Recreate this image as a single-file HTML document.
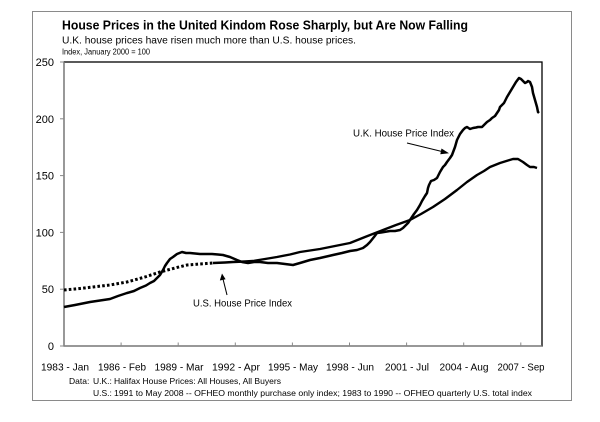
<!DOCTYPE html>
<html>
<head>
<meta charset="utf-8">
<style>
html,body{margin:0;padding:0;background:#fff;}
svg{display:block;}
text{font-family:"Liberation Sans",sans-serif;fill:#000;}
</style>
</head>
<body>
<svg width="600" height="422" viewBox="0 0 600 422" xmlns="http://www.w3.org/2000/svg">
  <rect x="0" y="0" width="600" height="422" fill="#fff"/>
  <!-- outer border -->
  <rect x="32.5" y="11.5" width="539" height="389" fill="none" stroke="#8a8a8a" stroke-width="1"/>

  <!-- titles -->
  <text x="62" y="29.5" font-size="12.5" font-weight="bold" textLength="406" lengthAdjust="spacingAndGlyphs">House Prices in the United Kindom Rose Sharply, but Are Now Falling</text>
  <text x="62" y="43.5" font-size="10" textLength="294" lengthAdjust="spacingAndGlyphs">U.K. house prices have risen much more than U.S. house prices.</text>
  <text x="62" y="54.5" font-size="8" textLength="88" lengthAdjust="spacingAndGlyphs">Index, January 2000 = 100</text>

  <!-- plot area frame -->
  <rect x="64" y="62" width="478" height="284" fill="none" stroke="#000" stroke-width="1.3"/>
  <line x1="64" y1="62" x2="64" y2="346" stroke="#888" stroke-width="1.2"/>
  <line x1="64" y1="346" x2="542" y2="346" stroke="#888" stroke-width="1.2"/>

  <!-- y ticks -->
  <g stroke="#888" stroke-width="1">
    <line x1="60" y1="62" x2="64" y2="62"/>
    <line x1="60" y1="118.8" x2="64" y2="118.8"/>
    <line x1="60" y1="175.6" x2="64" y2="175.6"/>
    <line x1="60" y1="232.4" x2="64" y2="232.4"/>
    <line x1="60" y1="289.2" x2="64" y2="289.2"/>
    <line x1="60" y1="346" x2="64" y2="346"/>
  </g>
  <!-- x ticks -->
  <g stroke="#888" stroke-width="1">
    <line x1="121.1" y1="342.5" x2="121.1" y2="346"/>
    <line x1="178.2" y1="342.5" x2="178.2" y2="346"/>
    <line x1="235.3" y1="342.5" x2="235.3" y2="346"/>
    <line x1="292.4" y1="342.5" x2="292.4" y2="346"/>
    <line x1="349.5" y1="342.5" x2="349.5" y2="346"/>
    <line x1="406.6" y1="342.5" x2="406.6" y2="346"/>
    <line x1="463.7" y1="342.5" x2="463.7" y2="346"/>
    <line x1="520.8" y1="342.5" x2="520.8" y2="346"/>
  </g>

  <!-- y labels -->
  <g font-size="11" text-anchor="end">
    <text x="54" y="66">250</text>
    <text x="54" y="122.8">200</text>
    <text x="54" y="179.6">150</text>
    <text x="54" y="236.4">100</text>
    <text x="54" y="293.2">50</text>
    <text x="54" y="350">0</text>
  </g>

  <!-- x labels -->
  <g font-size="10.5" text-anchor="middle">
    <text x="65" y="370.5" textLength="48" lengthAdjust="spacingAndGlyphs">1983 - Jan</text>
    <text x="122" y="370.5" textLength="48" lengthAdjust="spacingAndGlyphs">1986 - Feb</text>
    <text x="179" y="370.5" textLength="49" lengthAdjust="spacingAndGlyphs">1989 - Mar</text>
    <text x="236" y="370.5" textLength="48" lengthAdjust="spacingAndGlyphs">1992 - Apr</text>
    <text x="293" y="370.5" textLength="50" lengthAdjust="spacingAndGlyphs">1995 - May</text>
    <text x="350" y="370.5" textLength="48" lengthAdjust="spacingAndGlyphs">1998 - Jun</text>
    <text x="407" y="370.5" textLength="44" lengthAdjust="spacingAndGlyphs">2001 - Jul</text>
    <text x="464" y="370.5" textLength="49" lengthAdjust="spacingAndGlyphs">2004 - Aug</text>
    <text x="521" y="370.5" textLength="47" lengthAdjust="spacingAndGlyphs">2007 - Sep</text>
  </g>

  <!-- source notes -->
  <g font-size="8.5">
    <text x="69" y="384">Data:</text>
    <text x="93" y="384">U.K.:</text>
    <text x="114" y="384" textLength="167" lengthAdjust="spacingAndGlyphs">Halifax House Prices:  All Houses, All Buyers</text>
    <text x="93" y="396">U.S.:</text>
    <text x="114" y="396" textLength="418" lengthAdjust="spacingAndGlyphs">1991 to May 2008 -- OFHEO  monthly purchase only index; 1983 to 1990 -- OFHEO quarterly  U.S. total  index</text>
  </g>

  <!-- US series dotted part (1983-1990) -->
  <polyline fill="none" stroke="#000" stroke-width="3" stroke-dasharray="2.6 2.2"
    points="64,290 80,288.5 93,287 110,285 127,282 145,277 160,272 175,268 187,265 200,264 213,263"/>
  <!-- US series solid part -->
  <polyline fill="none" stroke="#000" stroke-width="2.4" stroke-linejoin="round"
    points="213,263 225,262.5 233,262 245,261.5 253,261 265,259 277,257 290,254.5 300,252 320,249 335,246 350,243 365,237 383,230 396,225 410,220 421,214 433,207 445,199 457,190 467,182 477,175 484,171 490,167 500,163 508,160.5 513,159 518,159 523,162 527,165 530,167 534,167 537,168"/>

  <!-- UK series -->
  <polyline fill="none" stroke="#000" stroke-width="2.5" stroke-linejoin="round"
    points="64,307 75,305 90,302 100,300.5 110,299 118,296 127,293 134,291 140,288 146,285.5 150,283 154,281 157,278 160,275 163,270 165,266 167,263 170,259 173,257 177,254 182,252 186,253 190,253 195,253.5 200,254 206,254 212,254 218,254.5 223,255 230,257 237,260 242,262 248,263 254,262 260,262 268,263 277,263 285,264 293,265 300,263 305,261.5 310,260 320,258 333,255 342,253 350,251 357,250 363,248 367,245 370,242 374,237 377,233 381,232.5 384,232 390,231 395,231 400,230 403,228 405,226 408,223 410,220 414,214 417,210 420,205 422,201 425,196 427,193 428,188 429,185 431,181 434,180 437,178 440,172 443,167 445,165 447,162 450,158 452,155 455,147 457,140 460,134 463,130 465,128 467,127 470,129 473,128 476,127.5 478,127 482,127 485,124 487,122 490,120 492,118 495,116 497,113 499,110 500,107 502,105 504,103 507,97 510,92 513,87 516,82 519,78 521,79 522,80 525,83 527,82 528,81 530,82 532,87 533,93 535,100 537,107 538,112 539,113"/>

  <!-- annotations -->
  <text x="353" y="136.5" font-size="10" textLength="101" lengthAdjust="spacingAndGlyphs">U.K. House Price Index</text>
  <line x1="407" y1="143" x2="444" y2="152" stroke="#000" stroke-width="1"/>
  <polygon points="449,153.3 441.5,148.5 440.3,154.2" fill="#000"/>

  <text x="193" y="306.5" font-size="10" textLength="99" lengthAdjust="spacingAndGlyphs">U.S. House Price Index</text>
  <line x1="227" y1="295" x2="223" y2="279" stroke="#000" stroke-width="1"/>
  <polygon points="222,273.5 219.8,280.5 225.6,279.2" fill="#000"/>
</svg>
</body>
</html>
